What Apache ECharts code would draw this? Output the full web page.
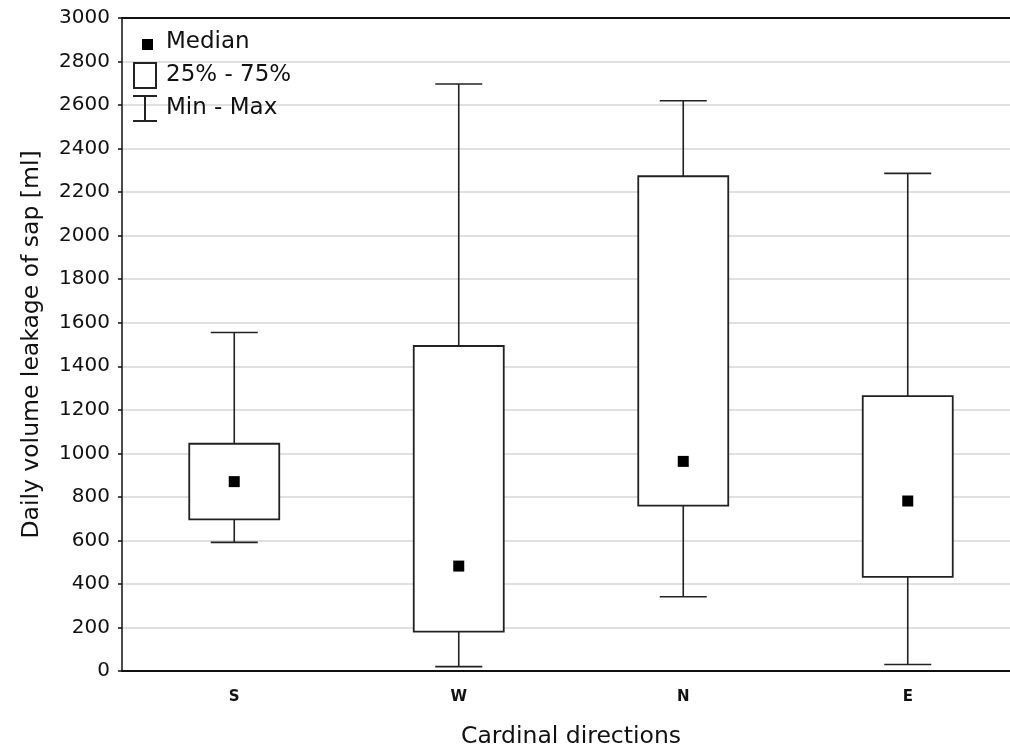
<!DOCTYPE html>
<html>
<head>
<meta charset="utf-8">
<script src="https://cdn.jsdelivr.net/npm/echarts@6/dist/echarts.min.js"></script>
<style>
  html, body { margin: 0; padding: 0; background: #fff; }
  #main { width: 1010px; height: 749px; }
</style>
</head>
<body>
<div id="main"></div>
<script>
// box plot values
const categories = ['S', 'W', 'N', 'E'];
const minValues = [591, 20, 341, 30];
const q1Values = [697, 181, 760, 432];
const medianValues = [870, 482, 963, 781];
const q3Values = [1044, 1493, 2273, 1263];
const maxValues = [1555, 2697, 2620, 2286];
const yTicks = [0, 200, 400, 600, 800, 1000, 1200, 1400, 1600, 1800, 2000, 2200, 2400, 2600, 2800, 3000];

const FONT = 'DejaVu Sans';
const boxData = categories.map((c, i) => [i, minValues[i], q1Values[i], medianValues[i], q3Values[i], maxValues[i]]);

const myChart = echarts.init(document.getElementById('main'));

function renderWhisker(params, api) {
  const x = api.coord([api.value(0), 0])[0];
  const yMin = api.coord([api.value(0), api.value(1)])[1];
  const yQ1 = api.coord([api.value(0), api.value(2)])[1];
  const yQ3 = api.coord([api.value(0), api.value(4)])[1];
  const yMax = api.coord([api.value(0), api.value(5)])[1];
  const half = 23.5;
  const style = { stroke: '#222', lineWidth: 1.6 };
  return {
    type: 'group',
    children: [
      { type: 'line', shape: { x1: x, y1: yMin, x2: x, y2: yQ1 }, style: style },
      { type: 'line', shape: { x1: x, y1: yQ3, x2: x, y2: yMax }, style: style },
      { type: 'line', shape: { x1: x - half, y1: yMin, x2: x + half, y2: yMin }, style: style },
      { type: 'line', shape: { x1: x - half, y1: yMax, x2: x + half, y2: yMax }, style: style }
    ]
  };
}

function renderBox(params, api) {
  const x = api.coord([api.value(0), 0])[0];
  const yQ1 = api.coord([api.value(0), api.value(2)])[1];
  const yQ3 = api.coord([api.value(0), api.value(4)])[1];
  const w = 90;
  return {
    type: 'rect',
    shape: { x: x - w / 2, y: yQ3, width: w, height: yQ1 - yQ3 },
    style: { fill: '#fff', stroke: '#222', lineWidth: 1.8 }
  };
}

myChart.setOption({
  backgroundColor: '#fff',
  animation: false,
  textStyle: { fontFamily: FONT },
  grid: { left: 122, top: 18, bottom: 78, width: 898, outerBoundsMode: 'none', containLabel: false },
  legend: {
    orient: 'vertical',
    left: 133,
    top: 29,
    padding: 0,
    itemWidth: 24,
    itemHeight: 27,
    itemGap: 6,
    selectedMode: false,
    textStyle: { fontFamily: FONT, fontSize: 23, color: '#111', padding: [0, 0, 0, 4] },
    data: [
      { name: 'Median', icon: 'path://M0,0M24,27M9,10H20V21H9Z', itemStyle: { color: '#000' } },
      { name: '25% - 75%', icon: 'path://M0,0H24V27H0Z M2,2V25H22V2Z', itemStyle: { color: '#222' } },
      { name: 'Min - Max', icon: 'path://M0,0H24V2H13V25H24V27H0V25H11V2H0Z', itemStyle: { color: '#222' } }
    ]
  },
  xAxis: [
    {
      type: 'category',
      data: categories,
      position: 'bottom',
      name: 'Cardinal directions',
      nameLocation: 'middle',
      nameGap: 54,
      nameTextStyle: { fontFamily: FONT, fontSize: 23.5, color: '#111' },
      axisLine: { lineStyle: { color: '#111', width: 2 } },
      axisTick: { alignWithLabel: true, inside: true, length: 4, lineStyle: { color: '#111', width: 1.5 } },
      axisLabel: { fontFamily: FONT, fontSize: 15, fontWeight: 'bold', color: '#111', margin: 19 },
      splitLine: { show: false }
    },
    {
      type: 'category',
      data: categories,
      position: 'top',
      axisLine: { lineStyle: { color: '#111', width: 2 } },
      axisTick: { alignWithLabel: true, inside: true, length: 4, lineStyle: { color: '#111', width: 1.5 } },
      axisLabel: { show: false },
      splitLine: { show: false }
    }
  ],
  yAxis: {
    type: 'value',
    min: yTicks[0],
    max: yTicks[yTicks.length - 1],
    interval: 200,
    name: 'Daily volume leakage of sap [ml]',
    nameLocation: 'middle',
    nameGap: 78,
    nameTextStyle: { fontFamily: FONT, fontSize: 23.5, color: '#111' },
    axisLine: { show: true, lineStyle: { color: '#111', width: 1.5 } },
    axisTick: { show: true, length: 4, lineStyle: { color: '#111', width: 1.5 } },
    axisLabel: { fontFamily: FONT, fontSize: 20, color: '#111', margin: 12, formatter: (v) => String(v) },
    splitLine: { lineStyle: { color: '#e0e0e0', width: 2 } }
  },
  series: [
    {
      name: 'Min - Max',
      type: 'custom',
      renderItem: renderWhisker,
      encode: { x: 0, y: [1, 2, 3, 4, 5] },
      data: boxData,
      z: 2
    },
    {
      name: '25% - 75%',
      type: 'custom',
      renderItem: renderBox,
      encode: { x: 0, y: [1, 2, 3, 4, 5] },
      data: boxData,
      z: 3
    },
    {
      name: 'Median',
      type: 'scatter',
      symbol: 'rect',
      symbolSize: 11,
      itemStyle: { color: '#000', opacity: 1 },
      data: categories.map((c, i) => [c, medianValues[i]]),
      z: 4
    }
  ]
});
</script>
</body>
</html>
